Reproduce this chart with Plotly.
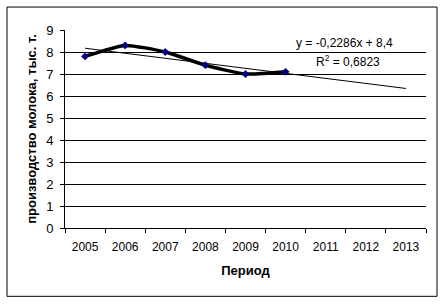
import numpy as np
import plotly.graph_objects as go

years = ["2005", "2006", "2007", "2008", "2009", "2010", "2011", "2012", "2013"]
data_years = ["2005", "2006", "2007", "2008", "2009", "2010"]
milk = [7.8, 8.3, 8.0, 7.4, 7.0, 7.1]

# linear trend fitted on period index 1..6, extended to 9
xi = np.arange(1, len(milk) + 1)
slope, intercept = np.polyfit(xi, milk, 1)
pred = slope * xi + intercept
r2 = 1 - np.sum((np.array(milk) - pred) ** 2) / np.sum((np.array(milk) - np.mean(milk)) ** 2)
trend_idx = np.arange(1, len(years) + 1)
trend_vals = slope * trend_idx + intercept

font = "Liberation Sans, Arial, sans-serif"

fig = go.Figure()
fig.add_trace(go.Scatter(
    x=years, y=trend_vals, mode="lines",
    line=dict(color="black", width=1), hoverinfo="skip", showlegend=False))
fig.add_trace(go.Scatter(
    x=data_years, y=milk, mode="lines+markers",
    line=dict(color="black", width=3.5, shape="spline", smoothing=0.55),
    marker=dict(color="#000080", size=6, symbol="diamond"),
    showlegend=False))

eq = "y = %sx + %s" % (("%.4f" % slope).replace(".", ","), ("%.1f" % intercept).replace(".", ","))
r2txt = "R<sup>2</sup> = %s" % ("%.4f" % r2).replace(".", ",")

fig.add_annotation(x=0.775, y=0.935, xref="paper", yref="paper", text=eq,
                   xanchor="center", yanchor="middle",
                   showarrow=False, font=dict(family=font, size=12, color="black"))
fig.add_annotation(x=0.785, y=0.845, xref="paper", yref="paper", text=r2txt,
                   xanchor="center", yanchor="middle",
                   showarrow=False, font=dict(family=font, size=12, color="black"))

# outer chart border
pw = 426 - 65
ph = 228.5 - 30
fig.add_shape(type="rect", xref="paper", yref="paper",
              x0=(7 - 65) / pw, x1=(437 - 65) / pw,
              y0=(228.5 - 297) / ph, y1=(228.5 - 7) / ph,
              line=dict(color="black", width=1))

fig.update_layout(
    width=444, height=304,
    margin=dict(l=65, r=18, t=30, b=75.5),
    paper_bgcolor="white", plot_bgcolor="white",
    font=dict(family=font, size=12, color="black"),
    xaxis=dict(type="category", categoryorder="array", categoryarray=years,
               tickson="boundaries", ticks="outside", ticklen=4, tickcolor="black",
               showline=True, linecolor="black", linewidth=1, showgrid=False,
               tickfont=dict(size=12), range=[-0.5, 8.5], ticklabelstandoff=8,
               title=dict(text="<b>Период</b>", font=dict(size=13), standoff=12)),
    yaxis=dict(range=[0, 9], dtick=1, ticks="outside", ticklen=4, tickcolor="black",
               showline=True, linecolor="black", linewidth=1,
               showgrid=True, gridcolor="black", gridwidth=1,
               zeroline=True, zerolinecolor="black", zerolinewidth=1,
               tickfont=dict(size=13), ticklabelstandoff=4,
               title=dict(text="<b>производство молока, тыс. т.</b>", font=dict(size=13), standoff=6)),
)

fig.write_html("out.html")
